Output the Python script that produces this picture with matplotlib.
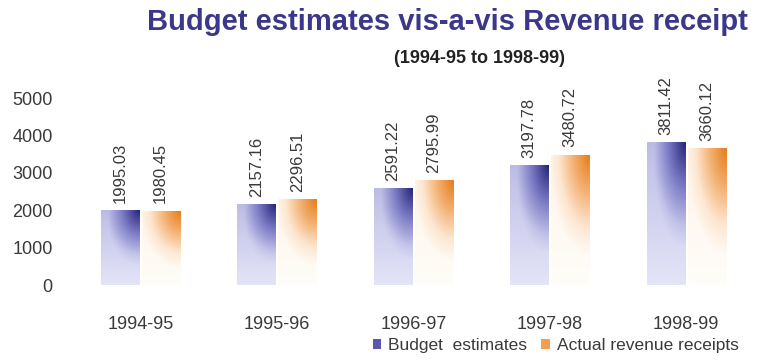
import numpy as np
import matplotlib
matplotlib.use("Agg")
import matplotlib.pyplot as plt
from matplotlib.colors import LinearSegmentedColormap
from matplotlib.patches import Rectangle

plt.rcParams['font.family'] = ['Liberation Sans', 'DejaVu Sans']

years = ['1994-95', '1995-96', '1996-97', '1997-98', '1998-99']
budget = [1995.03, 2157.16, 2591.22, 3197.78, 3811.42]
actual = [1980.45, 2296.51, 2795.99, 3480.72, 3660.12]
yticks = [0, 1000, 2000, 3000, 4000, 5000]

cm_blue = LinearSegmentedColormap.from_list('b', [(0, '#e4e4f7'), (0.25, '#c4c4ea'), (0.6, '#7c7cc6'), (1, '#26267a')])
cm_or = LinearSegmentedColormap.from_list('o', [(0, '#fffdf8'), (0.3, '#fde6d0'), (0.65, '#f3ae6e'), (1, '#e57d1a')])

fig = plt.figure(figsize=(7.58, 3.6), dpi=100)
ax = fig.add_axes([0.095, 0.2083, 0.9004, 0.6233])
for s in ax.spines.values(): s.set_visible(False)

x = np.arange(len(years)); w = 0.28; off = 0.15
b1 = ax.bar(x - off, budget, w, color='none')
b2 = ax.bar(x + off, actual, w, color='none')

def grad(bars, cmap, vals, base):
    ny, nx = 160, 50
    u = np.linspace(0, 1, nx)[None, :]; v = np.linspace(0, 1, ny)[:, None]
    t = np.clip(1 - np.sqrt(((1 - u) / 1.15)**2 + ((1 - v) / 0.8)**2), 0, 1)
    t = np.maximum(t, base * v)
    for bar, val in zip(bars, vals):
        x0 = bar.get_x(); x1 = x0 + bar.get_width()
        im = ax.imshow(t, cmap=cmap, extent=(x0, x1, 0, bar.get_height()), origin='lower',
                       aspect='auto', vmin=0, vmax=1, zorder=2, interpolation='bilinear')
        im.set_clip_path(Rectangle((x0, 0), x1 - x0, bar.get_height(), transform=ax.transData))
        ax.text(bar.get_x() + bar.get_width() / 2, bar.get_height() + 200, f'{val:.2f}',
                rotation=90, ha='center', va='bottom', fontsize=12, color='#3a3a3a')

grad(b1, cm_blue, budget, 0.3)
grad(b2, cm_or, actual, 0.12)
ax.set_xlim(-0.5, 4.5); ax.set_ylim(0, 6000)

ax.set_yticks(yticks); ax.set_yticklabels([str(v) for v in yticks])
ax.set_xticks(x); ax.set_xticklabels(years)
ax.tick_params(length=0, labelsize=13, colors='#3a3a3a')
ax.tick_params(axis='x', pad=22)
ax.tick_params(axis='y', pad=14)

fig.text(0.59, 0.938, 'Budget estimates vis-a-vis Revenue receipt', ha='center', va='center',
         fontsize=21, fontweight='bold', color='#3b3889')
fig.text(0.633, 0.838, '(1994-95 to 1998-99)', ha='center', va='center',
         fontsize=13, fontweight='bold', color='#222222')

h1 = Rectangle((0, 0), 1, 1, facecolor='#5a57b0')
h2 = Rectangle((0, 0), 1, 1, facecolor='#f2a050')
fig.legend([h1, h2], ['Budget  estimates', 'Actual revenue receipts'], loc='center right',
           bbox_to_anchor=(0.995, 0.04), ncol=2, frameon=False, fontsize=12.5,
           handlelength=0.5, handleheight=0.5, handletextpad=0.4, columnspacing=0.8,
           labelcolor='#3a3a3a')

fig.savefig('out.png', dpi=100)
